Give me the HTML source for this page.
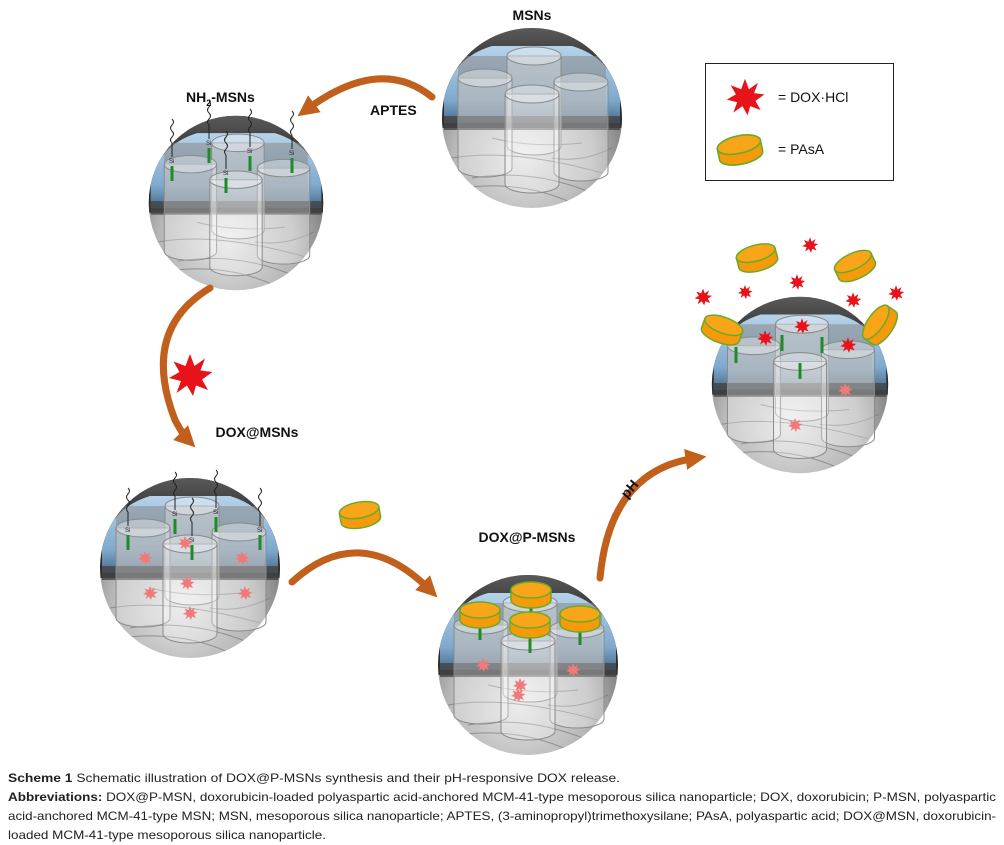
<!DOCTYPE html>
<html><head><meta charset="utf-8"><style>
html,body{margin:0;padding:0;background:#fff;}
svg{display:block;}
</style></head><body>
<svg width="1004" height="845" viewBox="0 0 1004 845" xmlns="http://www.w3.org/2000/svg">
<defs>
  <radialGradient id="silver" cx="0.45" cy="0.72" r="0.7">
    <stop offset="0" stop-color="#e4e4e4"/>
    <stop offset="0.55" stop-color="#b8b8b8"/>
    <stop offset="1" stop-color="#5f5f5f"/>
  </radialGradient>
  <linearGradient id="dark" x1="0" y1="0" x2="0" y2="1">
    <stop offset="0" stop-color="#5a5a5a"/>
    <stop offset="0.6" stop-color="#1e1e1e"/>
    <stop offset="1" stop-color="#333"/>
  </linearGradient>
  <linearGradient id="blue" x1="0" y1="0" x2="0" y2="1">
    <stop offset="0" stop-color="#b6d3ea"/>
    <stop offset="0.7" stop-color="#7fa9cc"/>
    <stop offset="1" stop-color="#456a8a"/>
  </linearGradient>
  <clipPath id="sc"><circle cx="0" cy="0" r="90"/></clipPath>
  <g id="cyl">
    <path d="M0 0 V90 A27 9 0 0 0 54 90 V0 Z" fill="#fff" fill-opacity="0.3" stroke="#8a8a8a" stroke-width="1"/>
    <ellipse cx="27" cy="0" rx="27" ry="9" fill="#fff" fill-opacity="0.35" stroke="#8a8a8a" stroke-width="1"/>
  </g>
  <g id="sphere">
    <circle cx="0" cy="0" r="90" fill="url(#silver)"/>
    <g clip-path="url(#sc)">
      <rect x="-90" y="-90" width="180" height="100" fill="url(#dark)"/>
      <path d="M-88 -20 Q-80 -60 -40 -72 L40 -72 Q80 -60 88 -20 L88 5 L-88 5 Z" fill="url(#blue)"/>
      <rect x="-74" y="-62" width="148" height="66" fill="#8a8a8a" fill-opacity="0.55"/>
      <rect x="-88" y="-2" width="176" height="14" fill="#444" fill-opacity="0.8"/>
      <path d="M-80 40 Q-20 30 70 55 M-60 60 Q0 50 60 75 M-40 20 Q0 30 50 25 M-70 70 Q-10 62 40 85 M20 40 Q50 45 80 30" stroke="#777" stroke-width="1" fill="none" opacity="0.7"/>
    </g>
    <use href="#cyl" x="-25" y="-62"/>
    <use href="#cyl" x="-74" y="-40"/>
    <use href="#cyl" x="22" y="-36"/>
    <use href="#cyl" x="-27" y="-24"/>
  </g>
  <polygon id="star" points="0,-14 3,-6 10,-11 7,-3 15,-2 8,3 12,10 4,7 2,14 -2,7 -9,12 -6,4 -14,2 -7,-2 -11,-9 -3,-6" fill="#e8121b"/>
  <polygon id="pstar" points="0,-7 1.5,-3 5,-5.5 3.5,-1.5 7.5,-1 4,1.5 6,5 2,3.5 1,7 -1,3.5 -4.5,6 -3,2 -7,1 -3.5,-1 -5.5,-4.5 -1.5,-3" fill="#f07a7a"/>
  <g id="pasa">
    <path d="M-20 -5 V5 A20 8 0 0 0 20 5 V-5 Z" fill="#f59a0a" stroke="#6aaa2a" stroke-width="1.5"/>
    <ellipse cx="0" cy="-5" rx="20" ry="8" fill="#f8a51a" stroke="#6aaa2a" stroke-width="1.5"/>
  </g>
  <g id="si">
    <path d="M0 -28 q-3 -3 0 -6 q3 -3 0 -6 q-3 -3 0 -6 q3 -3 0 -6" stroke="#222" fill="none" stroke-width="1"/>
    <line x1="0" y1="-28" x2="0" y2="-14" stroke="#222" stroke-width="1"/>
    <text x="-3" y="-8" font-family="Liberation Sans, sans-serif" font-size="6" fill="#222">Si</text>
    <line x1="0" y1="-5" x2="0" y2="10" stroke="#1f8a2a" stroke-width="3"/>
  </g>
  <marker id="ah" viewBox="0 0 10 10" refX="5" refY="5" markerWidth="3" markerHeight="3" orient="auto">
    <path d="M0 0 L10 5 L0 10 Z" fill="#c0601c"/>
  </marker>
</defs>

<use href="#sphere" transform="translate(532,118)"/>
<use href="#sphere" transform="translate(236,203) scale(0.97)"/>
<use href="#sphere" transform="translate(190,568)"/>
<use href="#sphere" transform="translate(528,665)"/>
<use href="#sphere" transform="translate(800,385) scale(0.98)"/>

<g transform="translate(236,203)">
  <use href="#si" x="-64" y="-32"/><use href="#si" x="-27" y="-50"/><use href="#si" x="14" y="-42"/>
  <use href="#si" x="56" y="-40"/><use href="#si" x="-10" y="-20"/>
</g>
<g transform="translate(190,568)">
  <use href="#si" x="-62" y="-28"/><use href="#si" x="-15" y="-44"/><use href="#si" x="26" y="-46"/>
  <use href="#si" x="70" y="-28"/><use href="#si" x="2" y="-18"/>
  <use href="#pstar" x="-45" y="-10"/><use href="#pstar" x="-5" y="-25"/><use href="#pstar" x="-40" y="25"/>
  <use href="#pstar" x="52" y="-10"/><use href="#pstar" x="55" y="25"/><use href="#pstar" x="-3" y="15"/>
  <use href="#pstar" x="0" y="45"/>
</g>
<g transform="translate(528,665)">
  <line x1="-48" y1="-40" x2="-48" y2="-25" stroke="#1f8a2a" stroke-width="3"/>
  <line x1="3" y1="-60" x2="3" y2="-45" stroke="#1f8a2a" stroke-width="3"/>
  <line x1="52" y1="-36" x2="52" y2="-20" stroke="#1f8a2a" stroke-width="3"/>
  <line x1="2" y1="-28" x2="2" y2="-12" stroke="#1f8a2a" stroke-width="3"/>
  <use href="#pasa" x="-48" y="-50"/><use href="#pasa" x="3" y="-70"/><use href="#pasa" x="52" y="-46"/><use href="#pasa" x="2" y="-40"/>
  <use href="#pstar" x="-45" y="0"/><use href="#pstar" x="45" y="5"/><use href="#pstar" x="-10" y="30"/><use href="#pstar" x="-8" y="20"/>
</g>
<g transform="translate(800,385)">
  <line x1="-64" y1="-38" x2="-64" y2="-22" stroke="#1f8a2a" stroke-width="3"/>
  <line x1="-18" y1="-50" x2="-18" y2="-34" stroke="#1f8a2a" stroke-width="3"/>
  <line x1="22" y1="-48" x2="22" y2="-32" stroke="#1f8a2a" stroke-width="3"/>
  <line x1="0" y1="-22" x2="0" y2="-6" stroke="#1f8a2a" stroke-width="3"/>
  <use href="#pstar" x="45" y="5"/><use href="#pstar" x="-5" y="40"/>
</g>
<use href="#pasa" transform="translate(722,330) rotate(20)"/>
<use href="#pasa" transform="translate(880,325) rotate(-55)"/>
<use href="#pasa" transform="translate(757,258) rotate(-15)"/>
<use href="#pasa" transform="translate(855,266) rotate(-25)"/>
<use href="#star" transform="translate(703,297) scale(0.6)"/>
<use href="#star" transform="translate(745,292) scale(0.5)"/>
<use href="#star" transform="translate(810,245) scale(0.55)"/>
<use href="#star" transform="translate(797,282) scale(0.55)"/>
<use href="#star" transform="translate(853,300) scale(0.55)"/>
<use href="#star" transform="translate(896,293) scale(0.55)"/>
<use href="#star" transform="translate(765,338) scale(0.55)"/>
<use href="#star" transform="translate(802,326) scale(0.55)"/>
<use href="#star" transform="translate(848,345) scale(0.55)"/>

<g fill="none" stroke="#c0601c" stroke-width="7" stroke-linecap="round">
  <path d="M432 97 Q380 55 306 110" marker-end="url(#ah)"/>
  <path d="M210 288 Q140 330 175 420 Q183 435 188 440" marker-end="url(#ah)"/>
  <path d="M292 582 Q360 520 430 590" marker-end="url(#ah)"/>
  <path d="M600 578 Q610 470 696 458" marker-end="url(#ah)"/>
</g>
<use href="#star" transform="translate(190,375) scale(1.5)"/>
<use href="#pasa" transform="translate(360,515) rotate(-10)"/>

<g font-family="Liberation Sans, sans-serif" font-weight="bold" font-size="14" fill="#111">
  <text x="532" y="20" text-anchor="middle">MSNs</text>
  <text x="186" y="102">NH<tspan font-size="9" dy="4">2</tspan><tspan dy="-4">-MSNs</tspan></text>
  <text x="370" y="115">APTES</text>
  <text x="257" y="437" text-anchor="middle">DOX@MSNs</text>
  <text x="527" y="542" text-anchor="middle">DOX@P-MSNs</text>
  <text x="620" y="496" transform="rotate(-50 627 490)">pH</text>
</g>

<rect x="705.5" y="63.5" width="188" height="117" fill="#fff" stroke="#222" stroke-width="1"/>
<use href="#star" transform="translate(745,97) scale(1.3)"/>
<use href="#pasa" transform="translate(740,150) rotate(-12) scale(1.1)"/>
<g font-family="Liberation Sans, sans-serif" font-size="14" fill="#111">
  <text x="778" y="102">= DOX·HCl</text>
  <text x="778" y="154">= PAsA</text>
</g>

<g font-family="Liberation Sans, sans-serif" font-size="12" fill="#222">
  <text x="8" y="782" textLength="612" lengthAdjust="spacingAndGlyphs"><tspan font-weight="bold">Scheme 1</tspan> Schematic illustration of DOX@P-MSNs synthesis and their pH-responsive DOX release.</text>
  <text x="8" y="801" textLength="988" lengthAdjust="spacingAndGlyphs"><tspan font-weight="bold">Abbreviations:</tspan> DOX@P-MSN, doxorubicin-loaded polyaspartic acid-anchored MCM-41-type mesoporous silica nanoparticle; DOX, doxorubicin; P-MSN, polyaspartic</text>
  <text x="8" y="820" textLength="988" lengthAdjust="spacingAndGlyphs">acid-anchored MCM-41-type MSN; MSN, mesoporous silica nanoparticle; APTES, (3-aminopropyl)trimethoxysilane; PAsA, polyaspartic acid; DOX@MSN, doxorubicin-</text>
  <text x="8" y="839" textLength="318" lengthAdjust="spacingAndGlyphs">loaded MCM-41-type mesoporous silica nanoparticle.</text>
</g>
</svg>
</body></html>
